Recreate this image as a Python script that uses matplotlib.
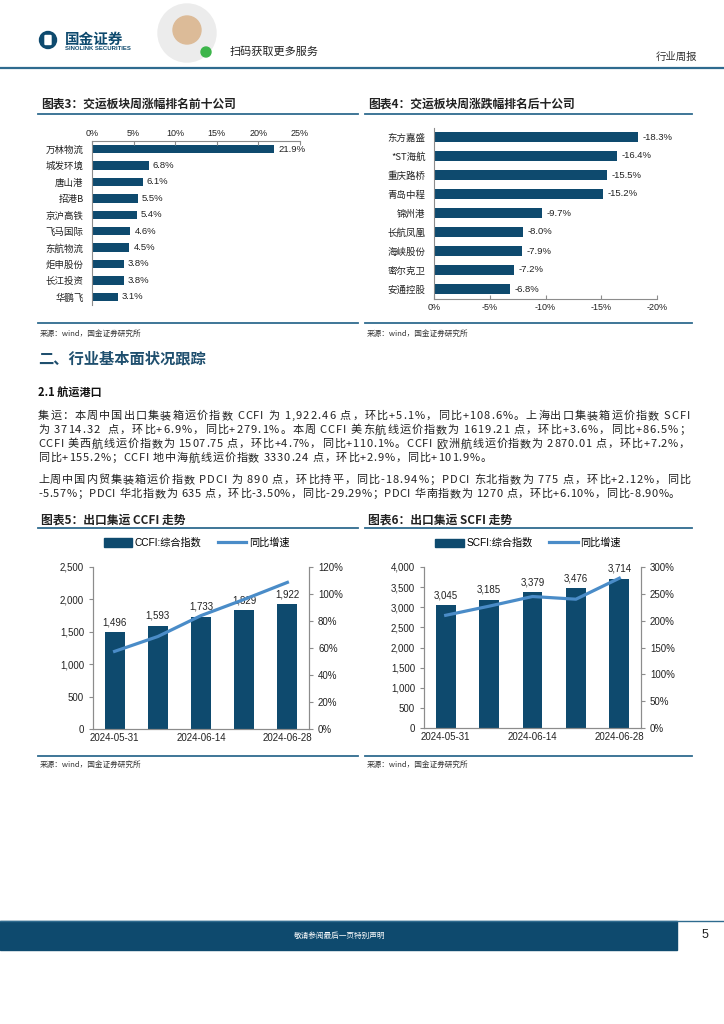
import matplotlib.pyplot as plt
import matplotlib.patches as patches
from matplotlib.lines import Line2D
from matplotlib.font_manager import FontProperties
import numpy as np

W, H = 724, 1024
NAVY = '#0e4a6e'
RULE = '#2f6b8f'
LINEC = '#4a8cc8'
CJK = ['Noto Sans CJK SC', 'DejaVu Sans']
ARI = ['Liberation Sans', 'Noto Sans CJK SC']

# chart 3: top gainers
top_names = ['万林物流', '城发环境', '唐山港', '招港B', '京沪高铁', '飞马国际', '东航物流', '炬申股份', '长江投资', '华鹏飞']
top_vals = [21.9, 6.8, 6.1, 5.5, 5.4, 4.6, 4.5, 3.8, 3.8, 3.1]

# chart 4: top losers
low_names = ['东方嘉盛', '*ST海航', '重庆路桥', '青岛中程', '锦州港', '长航凤凰', '海峡股份', '密尔克卫', '安通控股']
low_vals = [-18.3, -16.4, -15.5, -15.2, -9.7, -8.0, -7.9, -7.2, -6.8]

# chart 5 / 6: CCFI, SCFI
dates = ['2024-05-31', '2024-06-07', '2024-06-14', '2024-06-21', '2024-06-28']
ccfi = [1496, 1593, 1733, 1829, 1922]
ccfi_yoy = [57.5, 68.5, 84.0, 96.0, 108.6]
scfi = [3045, 3185, 3379, 3476, 3714]
scfi_yoy = [210.0, 227.0, 245.0, 240.0, 279.1]

body_lines = [
    '集运：本周中国出口集装箱运价指数 CCFI 为 1,922.46 点，环比+5.1%，同比+108.6%。上海出口集装箱运价指数 SCFI',
    '为 3714.32  点，环比+6.9%，同比+279.1%。本周 CCFI 美东航线运价指数为 1619.21 点，环比+3.6%，同比+86.5%；',
    'CCFI 美西航线运价指数为 1507.75 点，环比+4.7%，同比+110.1%。CCFI 欧洲航线运价指数为 2870.01 点，环比+7.2%，',
    '同比+155.2%；CCFI 地中海航线运价指数 3330.24 点，环比+2.9%，同比+101.9%。',
    '上周中国内贸集装箱运价指数 PDCI 为 890 点，环比持平，同比-18.94%；PDCI 东北指数为 775 点，环比+2.12%，同比',
    '-5.57%；PDCI 华北指数为 635 点，环比-3.50%，同比-29.29%；PDCI 华南指数为 1270 点，环比+6.10%，同比-8.90%。',
]
body_y = [416, 430, 444, 458, 480, 494]
body_end = [690, 690, 690, None, 690, 680]

fig = plt.figure(figsize=(W / 100, H / 100), dpi=100)
bg = fig.add_axes([0, 0, 1, 1], zorder=0)
bg.set_xlim(0, W)
bg.set_ylim(H, 0)
bg.axis('off')


def px_axes(x0, y0, x1, y1):
    return fig.add_axes([x0 / W, 1 - y1 / H, (x1 - x0) / W, (y1 - y0) / H])


def hline(y, x0, x1, lw=1.3, color=RULE):
    bg.add_line(Line2D([x0, x1], [y, y], color=color, lw=lw))


# ---- header
bg.add_patch(patches.Circle((48, 40), 8.5, color=NAVY))
bg.add_patch(patches.FancyBboxPatch((45.5, 36), 5, 8, boxstyle='round,pad=0.5', color='white'))
bg.text(65, 38.5, '国金证券', fontsize=10.5, fontweight='bold', color=NAVY, family=CJK, va='center')
bg.text(65, 48, 'SINOLINK SECURITIES', fontsize=4.3, fontweight='bold', color=NAVY, family=ARI, va='center')
bg.add_patch(patches.Circle((187, 33), 29, color='#ececec'))
bg.add_patch(patches.Circle((187, 30), 14, color='#dcbb98'))
bg.add_patch(patches.Circle((206, 52), 5, color='#3cb54a'))
bg.text(230, 52, '扫码获取更多服务', fontsize=8, color='#222222', family=CJK, va='center')
bg.text(697, 57, '行业周报', fontsize=7.5, color='#333333', family=CJK, va='center', ha='right')
hline(68, 0, W, lw=1.6)

# ---- chart titles
for x0, x1, t in [(38, 358, '图表3：交运板块周涨幅排名前十公司'), (365, 692, '图表4：交运板块周涨跌幅排名后十公司')]:
    bg.text(x0 + 3, 104, t, fontsize=8.5, fontweight='bold', color='#222222', family=CJK, va='center')
    hline(114, x0, x1)
    hline(323, x0, x1)
    bg.text(x0 + 2, 334, '来源：wind，国金证券研究所', fontsize=5.5, color='#333333', family=CJK, va='center')


def style_axes(ax):
    for s in ax.spines.values():
        s.set_color('#8c8c8c')
        s.set_linewidth(0.8)
    ax.tick_params(colors='#8c8c8c', labelcolor='#222222', length=3, width=0.8)


# chart 3
ax3 = px_axes(92, 141, 300, 305)
y3 = np.arange(len(top_names))
ax3.barh(y3, top_vals, height=0.52, color=NAVY)
ax3.set_ylim(len(top_names) - 0.5, -0.5)
ax3.set_xlim(0, 25)
ax3.set_xticks(np.arange(0, 26, 5))
ax3.set_xticklabels([f'{v}%' for v in range(0, 26, 5)], family=ARI, fontsize=6.5)
ax3.xaxis.tick_top()
ax3.set_yticks(y3)
ax3.set_yticklabels(top_names, family=CJK, fontsize=6.8)
style_axes(ax3)
ax3.spines['bottom'].set_visible(False)
ax3.spines['right'].set_visible(False)
ax3.tick_params(axis='y', length=0, pad=6)
ax3.tick_params(axis='x', direction='in', pad=2)
for yy, v in zip(y3, top_vals):
    ax3.text(v + 0.5, yy, f'{v:.1f}%', va='center', ha='left', fontsize=6.8, family=ARI, color='#222222')

# chart 4
ax4 = px_axes(434, 127.5, 657, 298.5)
y4 = np.arange(len(low_names))
ax4.barh(y4, low_vals, height=0.52, color=NAVY)
ax4.set_ylim(len(low_names) - 0.5, -0.5)
ax4.set_xlim(0, -20)
ax4.set_xticks(np.arange(0, -21, -5))
ax4.set_xticklabels([f'{v}%' for v in range(0, -21, -5)], family=ARI, fontsize=6.5)
ax4.set_yticks(y4)
ax4.set_yticklabels(low_names, family=CJK, fontsize=6.8)
style_axes(ax4)
ax4.spines['top'].set_visible(False)
ax4.spines['right'].set_visible(False)
ax4.tick_params(axis='y', length=0, pad=6)
ax4.tick_params(axis='x', direction='in', pad=3)
for yy, v in zip(y4, low_vals):
    ax4.text(v - 0.4, yy, f'{v:.1f}%', va='center', ha='left', fontsize=6.8, family=ARI, color='#222222')

# ---- section text
bg.text(38, 358, '二、行业基本面状况跟踪', fontsize=11, fontweight='bold', color='#1f4f6e', family=CJK, va='center')
bg.text(38, 393, '2.1 航运港口', fontsize=8, fontweight='bold', color='#111111', family=CJK, va='center')

fig.canvas.draw()
renderer = fig.canvas.get_renderer()
prop = FontProperties(family='Noto Sans CJK SC', size=8)
gap = 0.5
for s, y, end in zip(body_lines, body_y, body_end):
    widths = [renderer.get_text_width_height_descent(c, prop, ismath=False)[0] for c in s]
    if end is not None:
        gap = (end - 38 - sum(widths)) / (len(s) - 1)
    x = 38
    for c, w in zip(s, widths):
        bg.text(x, y, c, fontproperties=prop, color='#222222', va='center', ha='left')
        x += w + gap


# ---- charts 5 and 6
def trend(box, frame, title, name, vals, yoy, ymax, ystep, rmax, rstep):
    x0, x1 = frame
    bg.text(x0 + 3, 520, title, fontsize=8.5, fontweight='bold', color='#222222', family=CJK, va='center')
    hline(528, x0, x1)
    hline(756, x0, x1)
    bg.text(x0 + 2, 765, '来源：wind，国金证券研究所', fontsize=5.5, color='#333333', family=CJK, va='center')

    ax = px_axes(*box)
    x = np.arange(len(vals))
    ax.bar(x, vals, width=0.46, color=NAVY, zorder=2)
    ax.set_xlim(-0.5, len(vals) - 0.5)
    ax.set_ylim(0, ymax)
    ax.set_yticks(np.arange(0, ymax + 1, ystep))
    ax.set_yticklabels([f'{v:,}' for v in range(0, ymax + 1, ystep)], family=ARI, fontsize=7)
    ax.set_xticks([0, 2, 4])
    ax.set_xticklabels([dates[i] for i in [0, 2, 4]], family=ARI, fontsize=7)
    style_axes(ax)
    ax.spines['top'].set_visible(False)
    ax.tick_params(axis='x', length=0, pad=3)
    for xx, v in zip(x, vals):
        ax.text(xx, v + ymax * 0.03, f'{v:,}', ha='center', va='bottom', fontsize=7, family=ARI, color='#222222', zorder=1)
    ax2 = ax.twinx()
    ax2.plot(x, yoy, color=LINEC, lw=2.3)
    ax2.set_ylim(0, rmax)
    ax2.set_yticks(np.arange(0, rmax + 1, rstep))
    ax2.set_yticklabels([f'{v}%' for v in range(0, rmax + 1, rstep)], family=ARI, fontsize=7)
    style_axes(ax2)
    ax2.spines['top'].set_visible(False)
    handles = [patches.Patch(color=NAVY), Line2D([0], [0], color=LINEC, lw=2.3)]
    ax.legend(handles, [name, '同比增速'], loc='lower center', bbox_to_anchor=(0.48, 1.06), ncol=2,
              frameon=False, prop={'family': ARI, 'size': 7.3}, handlelength=2.8, handleheight=0.9,
              columnspacing=1.6, handletextpad=0.3)


trend((93, 567, 309, 729), (38, 358), '图表5：出口集运 CCFI 走势', 'CCFI:综合指数', ccfi, ccfi_yoy, 2500, 500, 120, 20)
trend((424, 567, 641, 728), (365, 692), '图表6：出口集运 SCFI 走势', 'SCFI:综合指数', scfi, scfi_yoy, 4000, 500, 300, 50)

# ---- footer
hline(921, 0, W, lw=1.0)
bg.add_patch(patches.Rectangle((0, 921), 677, 29, color=NAVY))
bg.text(340, 935.5, '敬请参阅最后一页特别声明', fontsize=5.5, color='white', family=CJK, va='center', ha='center')
bg.text(705, 935.5, '5', fontsize=9, color='#222222', family=ARI, va='center', ha='center')

fig.savefig('out.png', dpi=100)
